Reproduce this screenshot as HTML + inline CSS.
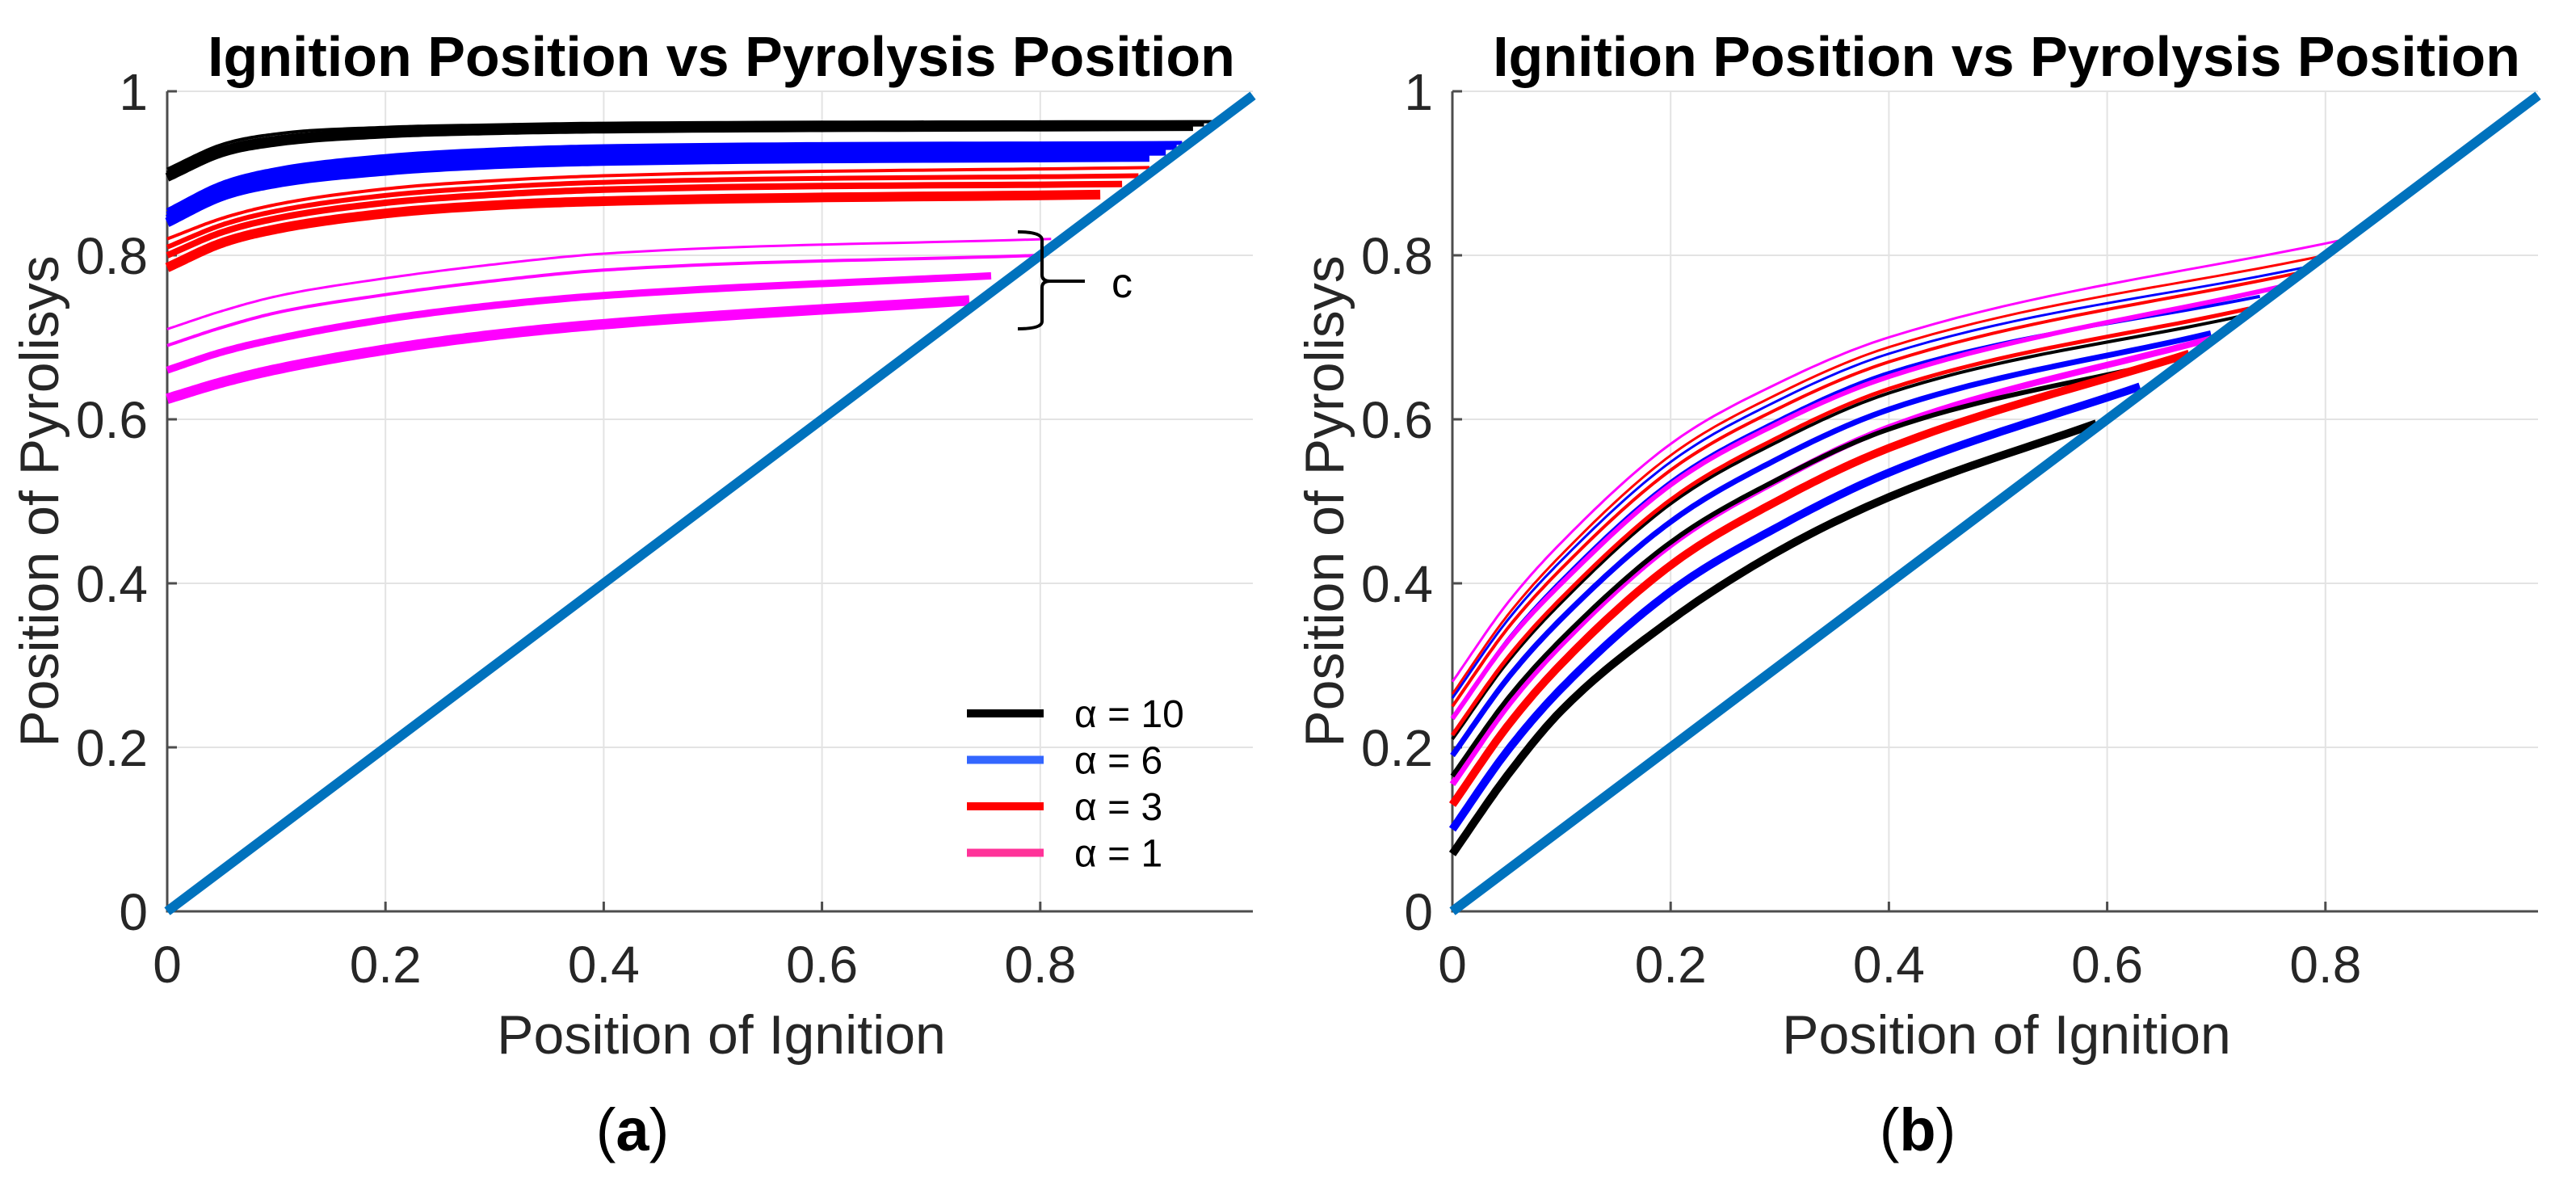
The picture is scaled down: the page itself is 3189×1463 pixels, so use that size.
<!DOCTYPE html>
<html><head><meta charset="utf-8"><style>
html,body{margin:0;padding:0;background:#fff;}
svg{display:block;}
text{font-family:"Liberation Sans",sans-serif;}
</style></head><body>
<svg id="fig" width="3189" height="1463" viewBox="0 0 3189 1463" xmlns="http://www.w3.org/2000/svg"></svg>
<script>
// ---- data ----
const xTicks = [0, 0.2, 0.4, 0.6, 0.8];
const xTickLabels = ["0", "0.2", "0.4", "0.6", "0.8"];
const yTicks = [0, 0.2, 0.4, 0.6, 0.8, 1];
const yTickLabels = ["0", "0.2", "0.4", "0.6", "0.8", "1"];
const knotX = [0, 0.05, 0.1, 0.2, 0.3, 0.4];
// panel (a) series: y at knotX, then end point
const aColors = ["#000000","#000000","#000000","#0000ff","#0000ff","#0000ff","#0000ff","#ff0000","#ff0000","#ff0000","#ff0000","#ff00ff","#ff00ff","#ff00ff","#ff00ff"];
const aWidths = [4,6,11,5,7,9,12,4,6,8,12,3,4,9,13];
const aY = [
 [0.905,0.935,0.948,0.956,0.959,0.961],
 [0.90,0.93,0.943,0.952,0.955,0.958],
 [0.895,0.925,0.938,0.948,0.952,0.954],
 [0.855,0.888,0.905,0.921,0.929,0.933],
 [0.85,0.883,0.9,0.916,0.924,0.928],
 [0.845,0.878,0.895,0.91,0.918,0.922],
 [0.84,0.872,0.888,0.903,0.911,0.915],
 [0.82,0.845,0.862,0.881,0.891,0.897],
 [0.81,0.837,0.854,0.873,0.883,0.889],
 [0.80,0.828,0.845,0.864,0.874,0.88],
 [0.785,0.815,0.832,0.851,0.861,0.866],
 [0.71,0.732,0.75,0.772,0.789,0.802],
 [0.69,0.712,0.73,0.752,0.769,0.782],
 [0.66,0.682,0.698,0.722,0.739,0.751],
 [0.625,0.645,0.661,0.685,0.703,0.716]
];
const aEndX = [0.965,0.95,0.94,0.93,0.925,0.915,0.90,0.90,0.89,0.875,0.855,0.81,0.80,0.755,0.735];
const aEndY = [0.963,0.96,0.957,0.937,0.932,0.926,0.92,0.907,0.897,0.887,0.874,0.82,0.80,0.775,0.745];
// panel (b)
const bColors = ["#ff00ff","#ff0000","#0000ff","#ff0000","#0000ff","#ff00ff","#000000","#ff0000","#0000ff","#ff00ff","#000000","#ff0000","#0000ff","#000000"];
const bWidths = [3,3,3,4,4,6,4,5,7,8,6,10,10,10];
const bY = [
 [0.28,0.375,0.45,0.57,0.645,0.70],
 [0.265,0.36,0.435,0.556,0.632,0.688],
 [0.26,0.354,0.428,0.548,0.624,0.68],
 [0.25,0.344,0.418,0.538,0.614,0.67],
 [0.235,0.33,0.404,0.524,0.60,0.657],
 [0.235,0.328,0.40,0.52,0.596,0.652],
 [0.21,0.303,0.377,0.497,0.574,0.632],
 [0.215,0.308,0.382,0.502,0.579,0.637],
 [0.19,0.283,0.357,0.475,0.553,0.612],
 [0.155,0.25,0.326,0.447,0.527,0.59],
 [0.165,0.258,0.332,0.45,0.528,0.588],
 [0.13,0.225,0.302,0.422,0.502,0.565],
 [0.10,0.195,0.272,0.39,0.47,0.535],
 [0.07,0.165,0.245,0.355,0.44,0.505]
];
const bEndX = [0.82,0.80,0.78,0.78,0.74,0.76,0.72,0.73,0.695,0.70,0.67,0.675,0.63,0.59];
const bEndY = [0.82,0.80,0.785,0.78,0.75,0.762,0.725,0.735,0.705,0.70,0.675,0.68,0.64,0.595];
const legendLabels = ["α = 10","α = 6","α = 3","α = 1"];
const legendColors = ["#000000","#3366ff","#ff0000","#ff3399"];

// ---- layout ----
const NS="http://www.w3.org/2000/svg";
const svg=document.getElementById('fig');
function mk(tag,attrs,parent){const e=document.createElementNS(NS,tag);for(const k in attrs)e.setAttribute(k,attrs[k]);(parent||svg).appendChild(e);return e;}
const W=1351,H=1015,TOP=113,BOT=1128;

function mono(xs,ys){ // monotone cubic sampled path points
  const n=xs.length,d=[],m=[];
  for(let i=0;i<n-1;i++)d.push((ys[i+1]-ys[i])/(xs[i+1]-xs[i]));
  m[0]=d[0];m[n-1]=d[n-2];
  for(let i=1;i<n-1;i++){m[i]=(d[i-1]*d[i]<=0)?0:(d[i-1]+d[i])/2;}
  for(let i=0;i<n-1;i++){if(d[i]===0){m[i]=m[i+1]=0;continue;}const a=m[i]/d[i],b=m[i+1]/d[i],s=a*a+b*b;if(s>9){const t=3/Math.sqrt(s);m[i]=t*a*d[i];m[i+1]=t*b*d[i];}}
  const pts=[];
  for(let i=0;i<n-1;i++){const h=xs[i+1]-xs[i];for(let k=0;k<20;k++){const t=k/20,t2=t*t,t3=t2*t;
    const y=(2*t3-3*t2+1)*ys[i]+(t3-2*t2+t)*h*m[i]+(-2*t3+3*t2)*ys[i+1]+(t3-t2)*h*m[i+1];pts.push([xs[i]+t*h,y]);}}
  pts.push([xs[n-1],ys[n-1]]);return pts;
}

function panel(X0,id,title,lab,Ys,endX,endY,cols,wids){
  const g=mk('g',{});
  
  
  const sx=v=>X0+v*W, sy=v=>BOT-v*H;
  const R=X0+1344;
  xTicks.forEach(v=>{if(v>0){const l=mk('line',{x1:sx(v),x2:sx(v),y1:TOP,y2:BOT,stroke:'#e3e3e3','stroke-width':2},g);}});
  yTicks.forEach(v=>{if(v>0){const l=mk('line',{x1:X0,x2:R,y1:sy(v),y2:sy(v),stroke:'#e3e3e3','stroke-width':2},g);}});
  const ax=mk('path',{d:`M${X0},${TOP} V${BOT} H${R}`,fill:'none',stroke:'#4d4d4d','stroke-width':3},g);
  
  xTicks.forEach((v,i)=>{
    const tk=mk('line',{x1:sx(v),x2:sx(v),y1:BOT,y2:BOT-12,stroke:'#4d4d4d','stroke-width':3},g);
    
    const t=mk('text',{x:sx(v),y:1216,'font-size':64,'text-anchor':'middle',fill:'#262626'},g);t.textContent=xTickLabels[i];
    
  });
  yTicks.forEach((v,i)=>{
    const tk=mk('line',{x1:X0,x2:X0+12,y1:sy(v),y2:sy(v),stroke:'#4d4d4d','stroke-width':3},g);
    
    const t=mk('text',{x:X0-24,y:sy(v)+23,'font-size':64,'text-anchor':'end',fill:'#262626'},g);t.textContent=yTickLabels[i];
    
  });
  Ys.forEach((ys,i)=>{
    const pts=mono(knotX.concat([endX[i]]),ys.concat([endY[i]]));
    const p=mk('path',{d:'M'+pts.map(p=>sx(p[0]).toFixed(1)+','+sy(p[1]).toFixed(1)).join(' L'),fill:'none',stroke:cols[i],'stroke-width':wids[i]},g);
    
  });
  const dg=mk('line',{x1:sx(0),y1:sy(0),x2:R,y2:sy((R-X0)/W),stroke:'#0072bd','stroke-width':12},g);
  
  const tt=mk('text',{x:X0+686,y:94,'font-size':70,'font-weight':'bold','text-anchor':'middle',fill:'#000'},g);tt.textContent=title;
  
  const xl=mk('text',{x:X0+686,y:1304,'font-size':68,'text-anchor':'middle',fill:'#262626'},g);xl.textContent='Position of Ignition';
  
  const yl=mk('text',{x:0,y:0,'font-size':68,'text-anchor':'middle',fill:'#262626',transform:`translate(${X0-135},${(TOP+BOT)/2}) rotate(-90)`},g);yl.textContent='Position of Pyrolisys';
  
  const cap=mk('text',{x:X0+576,y:1424,'font-size':74,'text-anchor':'middle',fill:'#000','font-family':'Liberation Serif, serif'},g);
  cap.innerHTML='(<tspan font-weight="bold">'+lab+'</tspan>)';
  
  return g;
}
panel(207,'a','Ignition Position vs Pyrolysis Position','a',aY,aEndX,aEndY,aColors,aWidths);
panel(1798,'b','Ignition Position vs Pyrolysis Position','b',bY,bEndX,bEndY,bColors,bWidths);

const lg=mk('g',{});


legendLabels.forEach((s,i)=>{
  const y=883+i*57.5;
  const l=mk('line',{x1:1197,x2:1292,y1:y,y2:y,stroke:legendColors[i],'stroke-width':10},lg);
  
  const t=mk('text',{x:1330,y:y+17,'font-size':48,fill:'#000'},lg);t.textContent=s;
  
});
const br=mk('path',{d:'M1260,287 Q1290,287 1290,297 V340 Q1290,348 1300,348 Q1290,348 1290,356 V398 Q1290,407 1260,407 M1297,348 H1343',fill:'none',stroke:'#000','stroke-width':4});

const bc=mk('text',{x:1376,y:368,'font-size':52,fill:'#000'});bc.textContent='c';

</script>
</body></html>
